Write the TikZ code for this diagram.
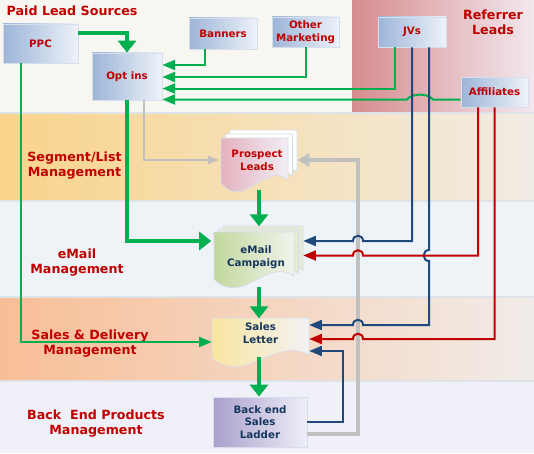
\documentclass[tikz,border=0pt]{standalone}
\usepackage{fontspec}
\setmainfont{DejaVu Sans}
\usetikzlibrary{arrows.meta, calc, positioning}
\definecolor{lanered}{RGB}{192,0,0}
\definecolor{navytext}{RGB}{23,55,94}
\definecolor{flowgreen}{RGB}{0,176,80}
\definecolor{jvblue}{RGB}{31,73,125}
\definecolor{affred}{RGB}{192,0,0}
\definecolor{loopgray}{RGB}{192,192,192}
\definecolor{boxblue}{RGB}{156,181,216}
\definecolor{boxpale}{RGB}{238,242,249}
\definecolor{boxedge}{RGB}{214,222,236}
\definecolor{pageedge}{RGB}{216,220,232}
\definecolor{laneedge}{RGB}{222,227,234}
\definecolor{topcream}{RGB}{247,246,240}
\definecolor{refdark}{RGB}{214,140,142}
\definecolor{refpale}{RGB}{242,232,238}
\definecolor{segdark}{RGB}{249,212,138}
\definecolor{segpale}{RGB}{241,236,229}
\definecolor{mailblue}{RGB}{238,243,248}
\definecolor{salesdark}{RGB}{248,190,150}
\definecolor{salespale}{RGB}{241,236,233}
\definecolor{backlav}{RGB}{240,241,248}
\newcommand{\lanefont}{\fontsize{9.5}{11.3}\selectfont\bfseries}
\newcommand{\boxfont}{\fontsize{7.7}{9.5}\selectfont\bfseries}
% one page with a wavy lower edge: x0, y0, x1, y1, style
\newcommand{\docpage}[5]{%
  \path[#5] (#1,#2) -- (#3,#2) -- (#3,#4)
    .. controls ($(#1,#4)!0.65!(#3,#4)+(0,-19)$) and ($(#1,#4)!0.35!(#3,#4)+(0,31)$) .. ($(#1,#4)+(0,3)$) -- cycle;}

\begin{document}
\begin{tikzpicture}[x=0.75pt, y=-0.75pt,
    leadbox/.style={draw=boxedge, line width=0.6pt, left color=boxblue, right color=boxpale,
        text=lanered, font=\boxfont, align=center, inner sep=0pt},
    docnode/.style={font=\boxfont, align=center, inner sep=0pt},
    lanelabel/.style={text=lanered, font=\lanefont, align=center},
    greenflow/.style={flowgreen, line width=2.3pt, -{Triangle[length=9pt,width=13.5pt]}},
    greenfeed/.style={flowgreen, line width=1.5pt, -{Triangle[length=9.5pt,width=7.5pt]}},
    jvline/.style={jvblue, line width=1.5pt, -{Triangle[length=9.5pt,width=7.5pt]}},
    affline/.style={affred, line width=1.5pt, -{Triangle[length=9.5pt,width=7.5pt]}},
    grayfeed/.style={loopgray, line width=1.5pt, -{Triangle[length=8pt,width=6pt]}},
    grayloop/.style={loopgray, line width=2.3pt, -{Triangle[length=9pt,width=9.5pt]}},
    pinkback/.style={draw=pageedge, line width=0.6pt, fill=white!90!boxpale},
    pinkfront/.style={draw=pageedge, line width=0.6pt, left color={rgb,255:red,228;green,178;blue,190}, right color={rgb,255:red,242;green,238;blue,245}},
    greenback/.style={draw=pageedge, line width=0.6pt, fill={rgb,255:red,228;green,236;blue,216}},
    greenfront/.style={draw=pageedge, line width=0.6pt, left color={rgb,255:red,194;green,216;blue,158}, right color={rgb,255:red,240;green,244;blue,236}},
    yellowfront/.style={draw=pageedge, line width=0.6pt, left color={rgb,255:red,249;green,229;blue,160}, right color={rgb,255:red,242;green,242;blue,244}}]
    \useasboundingbox (0,0) rectangle (534,453);

    % Lanes
    \fill[topcream] (0,0) rectangle (352,113);
    \fill[left color=refdark, right color=refpale] (352,0) rectangle (534,112);
    \fill[left color=segdark, right color=segpale] (0,113) rectangle (534,201);
    \fill[mailblue] (0,201) rectangle (534,297);
    \fill[left color=salesdark, right color=salespale] (0,297) rectangle (534,381);
    \fill[backlav] (0,381) rectangle (534,453);
    \foreach \y in {113,201,297,381}
        \draw[laneedge, line width=1.5pt] (0,\y) -- (534,\y);

    % Lane titles
    \node[lanelabel, anchor=west] (paidtitle) at (2,11) {Paid Lead Sources};
    \node[lanelabel] (reftitle) at (493,22) {Referrer\\Leads};
    \node[lanelabel] (segtitle) at (74.5,166) {Segment/List\\Management};
    \node[lanelabel] (mailtitle) at (77,263) {eMail\\Management};
    \node[lanelabel] (salestitle) at (90,343.5) {Sales \& Delivery\\Management};
    \node[lanelabel] (backtitle) at (96,423.5) {Back\ \ End Products\\Management};

    % Pages behind the document nodes
    \docpage{230}{130}{297}{172}{pinkback}
    \docpage{225.5}{134}{292.5}{176}{pinkback}
    \docpage{221}{138}{288}{180}{pinkfront}
    \docpage{223}{226}{303}{270}{greenback}
    \docpage{218.5}{229}{298.5}{273}{greenback}
    \docpage{214}{232}{294}{276}{greenfront}
    \docpage{212}{318}{309}{355}{yellowfront}

    % Sources
    \node[leadbox, minimum width=56.25pt, minimum height=29.25pt] (ppc) at (40.5,43.5) {PPC};
    \node[leadbox, minimum width=52.5pt, minimum height=35.25pt] (optins) at (127,76.5) {Opt ins};
    \node[leadbox, minimum width=51pt, minimum height=23.25pt] (banners) at (223,33.5) {Banners};
    \node[leadbox, minimum width=50.25pt, minimum height=22.5pt] (othermkt) at (305.5,32) {Other\\Marketing};
    \node[leadbox, minimum width=51pt, minimum height=22.5pt] (jvs) at (412,32) {JVs};
    \node[leadbox, minimum width=50.25pt, minimum height=22.5pt] (affiliates) at (494.5,92) {Affiliates};

    % Flow
    \node[docnode, text=lanered, minimum width=57pt, minimum height=45pt] (prospects) at (257,160) {Prospect\\Leads};
    \node[docnode, text=navytext, minimum width=66.75pt, minimum height=44.25pt] (emailcamp) at (256,257.5) {eMail\\Campaign};
    \node[docnode, text=navytext, minimum width=72.75pt, minimum height=30pt] (salesletter) at (260.5,333) {Sales\\Letter};
    \node[docnode, draw=boxedge, line width=0.6pt, text=navytext,
        left color={rgb,255:red,170;green,160;blue,204}, right color={rgb,255:red,238;green,238;blue,248},
        minimum width=70.5pt, minimum height=37.5pt] (backend) at (260,422) {Back end\\Sales\\Ladder};

    % Green feeds into Opt ins
    \draw[greenflow] ([shift={(0,-10.5)}]ppc.east) -| (optins.north);
    \draw[greenfeed] ([shift={(-18,0)}]banners.south) |- ([shift={(0,-11.5)}]optins.east);
    \draw[greenfeed] (othermkt.south) |- ([shift={(0,0.5)}]optins.east);
    \draw[greenfeed] ([shift={(-17,0)}]jvs.south) |- ([shift={(0,12)}]optins.east);
    \draw[greenfeed] ([shift={(0,7.5)}]affiliates.west) -- (433,99.5)
        .. controls (428,93) and (412,93) .. (407,99.5) -- ([shift={(0,23)}]optins.east);

    % Main flow
    \draw[greenflow] (optins.south) |- ([shift={(0,-16.5)}]emailcamp.west);
    \draw[greenfeed] ([shift={(-19.5,0)}]ppc.south) |- ([shift={(0,9)}]salesletter.west);
    \draw[greenflow] ([shift={(2,0)}]prospects.south) -- ++(0,36);
    \draw[greenflow] ([shift={(3,0)}]emailcamp.south) -- ++(0,31);
    \draw[greenflow] ([shift={(-1.5,4)}]salesletter.south) -- (backend.north -| 259,0);

    % Gray loops to prospects
    \coordinate (loopcorner) at (358,160);
    \draw[grayfeed] ([shift={(17,0)}]optins.south) |- (prospects.west);
    \draw[grayloop] ([shift={(0,12)}]backend.east) -| (loopcorner) -- ([shift={(2,0)}]prospects.east);

    % JV lines
    \draw[jvline] (jvs.south) |- (363,241) .. controls (363,234) and (353,234) .. (353,241)
        -- ([shift={(2.5,-16.5)}]emailcamp.east);
    \draw[jvline] ([shift={(17,0)}]jvs.south) -- (429,250) .. controls (422,250) and (422,261) .. (429,261)
        |- (363,325) .. controls (363,318) and (353,318) .. (353,325) -- ([shift={(0,-8)}]salesletter.east);
    \draw[jvline] (backend.east) -| (343,351) -- ([shift={(0,18)}]salesletter.east);

    % Affiliate lines
    \draw[affline] ([shift={(-16.5,0)}]affiliates.south) |- (363,255.5) .. controls (363,248.5) and (353,248.5) .. (353,255.5)
        -- ([shift={(2.5,-2)}]emailcamp.east);
    \draw[affline] (affiliates.south) |- (363,339) .. controls (363,332) and (353,332) .. (353,339)
        -- ([shift={(0,6)}]salesletter.east);
\end{tikzpicture}
\end{document}
